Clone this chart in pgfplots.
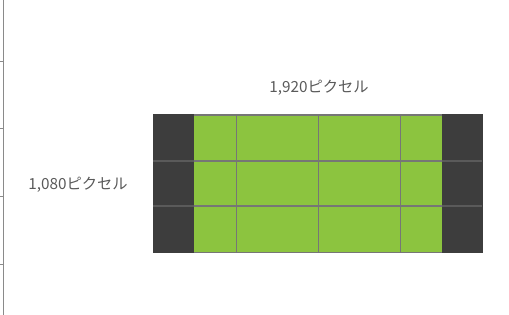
\documentclass[border=0pt]{standalone}
\usepackage{pgfplots}
\pgfplotsset{compat=1.18}
\usepackage{fontspec}
\setmainfont{Noto Sans CJK JP}
\definecolor{darkbg}{HTML}{3D3D3D}
\definecolor{greenbg}{HTML}{8CC43F}
\definecolor{gridg}{HTML}{767676}
\definecolor{griddark}{HTML}{5A5A5A}
\definecolor{txt}{HTML}{5A5A5A}
\definecolor{axisline}{HTML}{8A8A8A}
\begin{document}
\begin{tikzpicture}
\begin{axis}[
  scale only axis, width=509pt, height=315pt,
  xmin=0, xmax=509, ymin=0, ymax=315, y dir=reverse,
  hide axis, clip=true,
]
\path (rel axis cs:0,0) rectangle (rel axis cs:1,1);
% left vertical line with ticks
\addplot[axisline, line width=1pt] coordinates {(3,0) (3,315)};
\addplot[axisline, line width=0.8pt] coordinates {(0,61) (3,61)};
\addplot[axisline, line width=0.8pt] coordinates {(0,128) (3,128)};
\addplot[axisline, line width=0.8pt] coordinates {(0,196) (3,196)};
\addplot[axisline, line width=0.8pt] coordinates {(0,264) (3,264)};
% dark rectangle
\addplot[draw=none, fill=darkbg] coordinates {(153,114) (483,114) (483,253) (153,253)} -- cycle;
% green rectangle
\addplot[draw=none, fill=greenbg] coordinates {(194,114) (442,114) (442,253) (194,253)} -- cycle;
% grid lines on dark area
\addplot[griddark, line width=1.2pt] coordinates {(153,161) (194,161)};
\addplot[griddark, line width=1.2pt] coordinates {(153,206) (194,206)};
\addplot[griddark, line width=1.2pt] coordinates {(442,161) (482,161)};
\addplot[griddark, line width=1.2pt] coordinates {(442,206) (482,206)};
% grid lines on green area
\addplot[gridg, line width=1.2pt] coordinates {(194,115) (442,115)};
\addplot[gridg, line width=1.2pt] coordinates {(194,161) (442,161)};
\addplot[gridg, line width=1.2pt] coordinates {(194,206) (442,206)};
\addplot[gridg, line width=1.2pt] coordinates {(194,252.5) (442,252.5)};
\addplot[gridg, line width=1pt] coordinates {(236,115) (236,252.5)};
\addplot[gridg, line width=1pt] coordinates {(318.5,115) (318.5,252.5)};
\addplot[gridg, line width=1pt] coordinates {(400,115) (400,252.5)};
% labels
\node[txt, font=\fontsize{15.3}{17}\selectfont] at (axis cs:319,87.5) {1,920ピクセル};
\node[txt, font=\fontsize{15.3}{17}\selectfont] at (axis cs:78,184.5) {1,080ピクセル};
\end{axis}
\end{tikzpicture}
\end{document}
